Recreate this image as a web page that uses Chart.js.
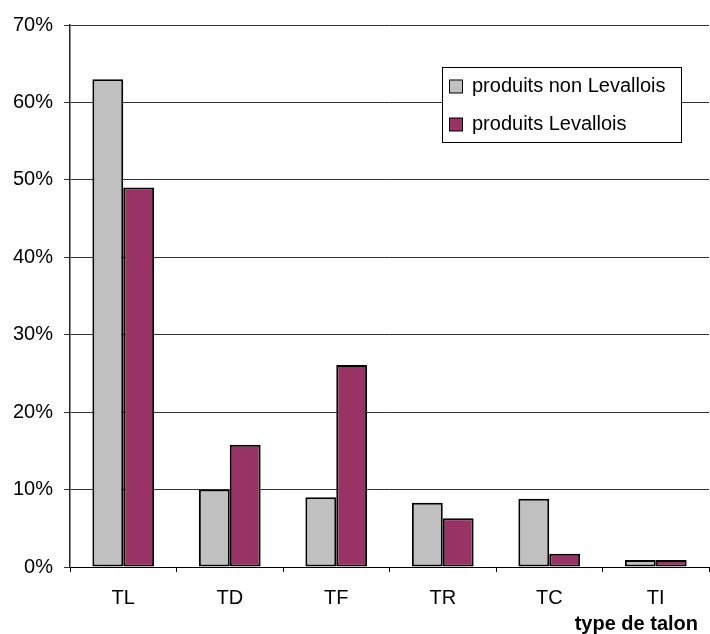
<!DOCTYPE html>
<html>
<head>
<meta charset="utf-8">
<script src="https://cdn.jsdelivr.net/npm/chart.js@4/dist/chart.umd.min.js"></script>
<style>
  html, body { margin: 0; padding: 0; background: #fff; }
  #wrap { width: 710px; height: 634px; }
</style>
</head>
<body>
<div id="wrap"><canvas id="talons" width="710" height="634"></canvas></div>
<script>
const categories = ['TL', 'TD', 'TF', 'TR', 'TC', 'TI'];
const nonLevallois = [63, 10, 9, 8.3, 8.8, 0.9];
const levallois = [49, 15.8, 26.1, 6.3, 1.7, 0.9];
const seriesNames = ['produits non Levallois', 'produits Levallois'];
const axisTitle = 'type de talon';

const FONT = '"Liberation Sans", Arial, sans-serif';

// boxed legend + bold axis title, drawn by hand
const extras = {
  id: 'extras',
  afterDraw(chart) {
    const c = chart.ctx;
    c.save();
    const lx = 442, ly = 67, lw = 240, lh = 76;
    c.fillStyle = '#fff';
    c.fillRect(lx, ly, lw, lh);
    c.strokeStyle = '#000';
    c.lineWidth = 1;
    c.strokeRect(lx + 0.5, ly + 0.5, lw - 1, lh - 1);
    c.font = '20px ' + FONT;
    c.textBaseline = 'middle';
    chart.data.datasets.forEach((ds, i) => {
      const cy = 86 + i * 38;
      c.fillStyle = ds.backgroundColor;
      c.fillRect(449.5, cy - 6, 13, 13);
      c.strokeStyle = '#000';
      c.strokeRect(449.5, cy - 6, 13, 13);
      c.fillStyle = '#000';
      c.textAlign = 'left';
      c.fillText(ds.label, 472, cy);
    });
    c.font = 'bold 20px ' + FONT;
    c.textAlign = 'right';
    c.fillText(axisTitle, 698, 624);
    c.restore();
  }
};

new Chart(document.getElementById('talons'), {
  type: 'bar',
  data: {
    labels: categories,
    datasets: [
      { label: seriesNames[0], data: nonLevallois, backgroundColor: '#c0c0c0', borderColor: '#000', borderWidth: 2, borderSkipped: false },
      { label: seriesNames[1], data: levallois, backgroundColor: '#993366', borderColor: '#000', borderWidth: 2, borderSkipped: false }
    ]
  },
  options: {
    responsive: false,
    animation: false,
    devicePixelRatio: 1,
    categoryPercentage: 0.58,
    barPercentage: 1.0,
    layout: { padding: { top: 25, right: 1, left: 0, bottom: 0 } },
    plugins: { legend: { display: false }, tooltip: { enabled: false } },
    scales: {
      x: {
        grid: { drawOnChartArea: false, drawTicks: true, tickLength: 5, color: '#000', offset: true },
        border: { color: '#000', width: 1 },
        ticks: { color: '#000', font: { family: FONT, size: 20 }, padding: 14, maxRotation: 0 },
        afterFit(s) { s.height = 67; }
      },
      y: {
        min: 0, max: 70,
        grid: { color: '#333', lineWidth: 1, tickLength: 6 },
        border: { color: '#222', width: 1.5 },
        ticks: { stepSize: 10, color: '#000', font: { family: FONT, size: 20 }, padding: 11,
                 callback: v => v + '%' },
        afterFit(s) { s.width = 70; }
      }
    }
  },
  plugins: [extras]
});
</script>
</body>
</html>
